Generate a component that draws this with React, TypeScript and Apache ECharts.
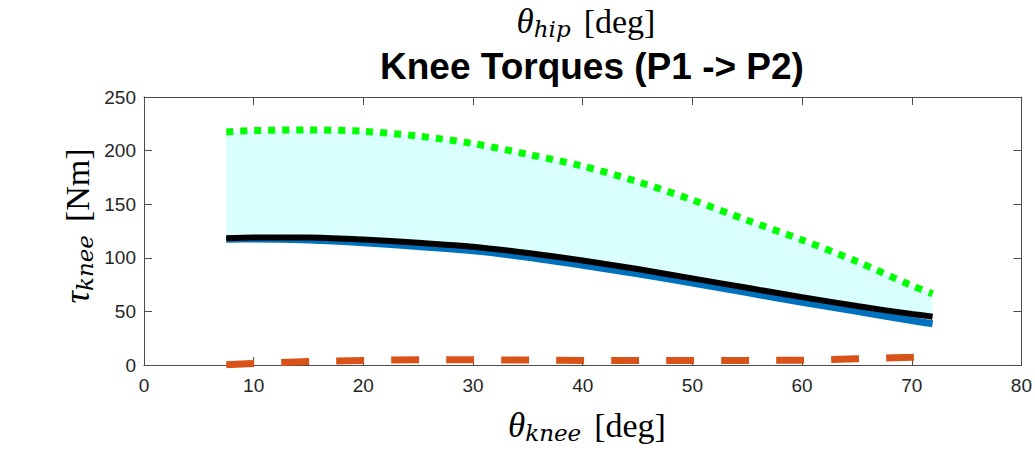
import { useEffect, useRef } from "react";
import * as echarts from "echarts";

// Knee angle samples [deg]
const kneeAngles = [7.5, 10, 15, 20, 25, 30, 35, 40, 45, 50, 55, 60, 65, 70, 71.9];
// Upper bound (green dotted) [Nm]
const tauUpper = [217.4, 218.7, 219.3, 218, 213.5, 206.6, 196.5, 185.5, 171, 154, 135, 116.6, 96.5, 74, 66.4];
// Nominal torque (black solid) [Nm]
const tauNominal = [118.2, 119, 119, 117, 114, 110.4, 104.5, 97.5, 89.5, 80.8, 72, 63.3, 55, 47.5, 45];
// Model torque (blue solid) [Nm]
const tauModel = [117.3, 117.5, 116.5, 114, 110.5, 106.5, 100.5, 93, 85, 76.5, 67.5, 58.5, 50, 41.5, 38.5];
// Lower bound (orange dashed) [Nm]
const tauLower = [0.3, 1.5, 3.2, 4.3, 4.9, 4.9, 4.6, 4.3, 4.1, 4.1, 4.3, 4.5, 5.8, 7.2, 7.8];

const xTicks = [0, 10, 20, 30, 40, 50, 60, 70, 80];
const yTicks = [0, 50, 100, 150, 200, 250];

const SERIF = "'Liberation Serif', 'DejaVu Serif', serif";
const SUBSERIF = "'DejaVu Serif', 'Liberation Serif', serif";
const SANS = "'Liberation Sans', Arial, Helvetica, sans-serif";

export default function App() {
  const ref = useRef<HTMLDivElement>(null);

  useEffect(() => {
    if (!ref.current) return;
    const chart = echarts.init(ref.current, null, { renderer: "svg" });
    const pairs = (ys: number[]) => kneeAngles.map((x, i) => [x, ys[i]]);

    const axisColor = "#4d4d4d";
    const tickColor = "#262626";

    const latexRich = {
      v: { fontFamily: SERIF, fontStyle: "italic", fontSize: 35, color: "#1a1a1a", lineHeight: 39 },
      s: {
        fontFamily: SUBSERIF,
        fontStyle: "italic",
        fontSize: 23,
        color: "#1a1a1a",
        lineHeight: 23,
        verticalAlign: "bottom",
      },
      u: { fontFamily: SERIF, fontSize: 34, color: "#1a1a1a", lineHeight: 39, padding: [0, 0, 0, 13] },
    };

    const baseAxis = {
      type: "value",
      axisLine: { show: true, onZero: false, lineStyle: { color: axisColor, width: 1 } },
      axisTick: { show: true, inside: true, length: 8, lineStyle: { color: axisColor } },
      splitLine: { show: false },
    };

    chart.setOption({
      animation: false,
      backgroundColor: "#ffffff",
      title: {
        text: "Knee Torques (P1 -> P2)",
        left: 587,
        top: 43,
        textAlign: "center",
        textStyle: { fontFamily: SANS, fontWeight: "bold", fontSize: 37, color: "#000000" },
      },
      grid: { left: 144, top: 97, width: 885, height: 268, containLabel: false },
      xAxis: [
        {
          ...baseAxis,
          min: 0,
          max: 80,
          interval: 10,
          position: "bottom",
          axisLabel: {
            show: true,
            margin: 11,
            fontFamily: SANS,
            fontSize: 19,
            color: tickColor,
            formatter: (v: number) => (xTicks.includes(v) ? String(v) : ""),
          },
        },
        {
          ...baseAxis,
          min: 0,
          max: 80,
          interval: 10,
          position: "top",
          axisLabel: { show: false },
        },
      ],
      yAxis: [
        {
          ...baseAxis,
          min: 0,
          max: 250,
          interval: 50,
          position: "left",
          axisLabel: {
            show: true,
            margin: 8,
            fontFamily: SANS,
            fontSize: 19,
            color: tickColor,
            formatter: (v: number) => (yTicks.includes(v) ? String(v) : ""),
          },
        },
        {
          ...baseAxis,
          min: 0,
          max: 250,
          interval: 50,
          position: "right",
          axisLabel: { show: false },
        },
      ],
      series: [
        {
          name: "band",
          type: "custom",
          xAxisIndex: 0,
          yAxisIndex: 0,
          silent: true,
          z: 1,
          data: [[kneeAngles[0], tauUpper[0]]],
          renderItem: (_params: any, api: any) => {
            const top = kneeAngles.map((x, i) => api.coord([x, tauUpper[i]]));
            const bottom = kneeAngles
              .map((x, i) => api.coord([x, tauNominal[i]]))
              .reverse();
            return {
              type: "polygon",
              shape: { points: top.concat(bottom) },
              style: { fill: "#d9ffff", stroke: "none" },
            };
          },
        },
        {
          name: "model",
          type: "line",
          data: pairs(tauModel),
          smooth: 0.3,
          symbol: "none",
          lineStyle: { color: "#0072BD", width: 7 },
          z: 3,
        },
        {
          name: "nominal",
          type: "line",
          data: pairs(tauNominal),
          smooth: 0.3,
          symbol: "none",
          lineStyle: { color: "#000000", width: 6 },
          z: 4,
        },
        {
          name: "upper",
          type: "line",
          data: pairs(tauUpper),
          smooth: 0.3,
          symbol: "none",
          lineStyle: { color: "#00ff00", width: 7, type: [7, 7], cap: "butt" },
          z: 5,
        },
        {
          name: "lower",
          type: "line",
          data: pairs(tauLower),
          smooth: 0.3,
          symbol: "none",
          lineStyle: { color: "#D95319", width: 7, type: [28, 27], cap: "butt" },
          z: 6,
        },
      ],
      graphic: [
        {
          type: "text",
          x: 586,
          y: 21,
          style: {
            text: "{v|θ}{s|hip}{u|[deg]}",
            rich: latexRich,
            align: "center",
            verticalAlign: "middle",
          },
        },
        {
          type: "text",
          x: 587,
          y: 425,
          style: {
            text: "{v|θ}{s|knee}{u|[deg]}",
            rich: latexRich,
            align: "center",
            verticalAlign: "middle",
          },
        },
        {
          type: "text",
          x: 77,
          y: 226,
          rotation: Math.PI / 2,
          style: {
            text: "{v|τ}{s|knee}{u|[Nm]}",
            rich: latexRich,
            align: "center",
            verticalAlign: "middle",
          },
        },
      ],
    });

    return () => chart.dispose();
  }, []);

  return (
    <div
      ref={ref}
      style={{ position: "absolute", left: 0, top: 0, width: 1035, height: 456 }}
    />
  );
}
